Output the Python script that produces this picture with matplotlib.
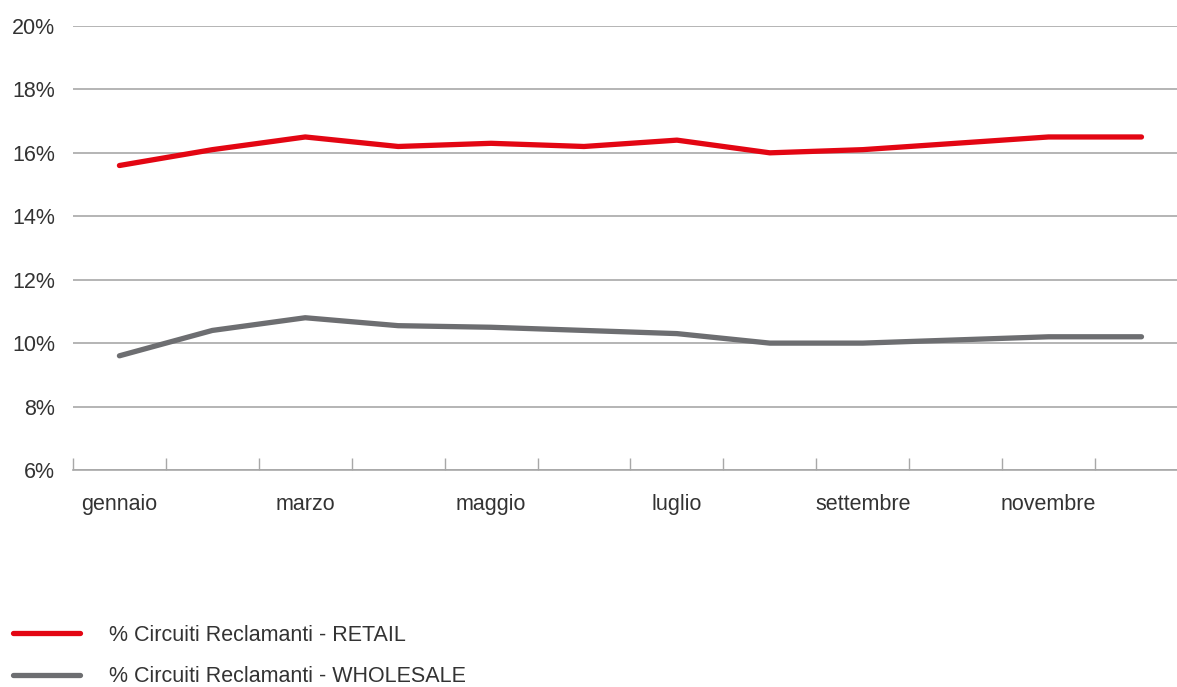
import matplotlib
matplotlib.use("Agg")
import matplotlib.pyplot as plt
from matplotlib.ticker import FixedLocator, FuncFormatter

months = ["gennaio", "febbraio", "marzo", "aprile", "maggio", "giugno",
          "luglio", "agosto", "settembre", "ottobre", "novembre", "dicembre"]
retail = [15.6, 16.1, 16.5, 16.2, 16.3, 16.2, 16.4, 16.0, 16.1, 16.3, 16.5, 16.5]
wholesale = [9.6, 10.4, 10.8, 10.55, 10.5, 10.4, 10.3, 10.0, 10.0, 10.1, 10.2, 10.2]
series_names = ["% Circuiti Reclamanti - RETAIL", "% Circuiti Reclamanti - WHOLESALE"]
y_ticks = [6, 8, 10, 12, 14, 16, 18, 20]

plt.rcParams['font.family'] = ['Liberation Sans', 'DejaVu Sans']
FS = 15.5

fig = plt.figure(figsize=(11.77, 6.87), dpi=100)
ax = fig.add_axes([0.062, 0.3159, 1.0093 - 0.062, 0.9622 - 0.3159])

x = list(range(len(months)))
l1, = ax.plot(x, retail, color="#e30613", lw=3.8, solid_capstyle="round", solid_joinstyle="round", zorder=3)
l2, = ax.plot(x, wholesale, color="#6d6e71", lw=3.8, solid_capstyle="round", solid_joinstyle="round", zorder=3)

ax.set_xlim(-0.5, len(months) - 0.5)
ax.set_ylim(6, 20)
ax.yaxis.set_major_locator(FixedLocator(y_ticks))
ax.yaxis.set_major_formatter(FuncFormatter(lambda v, p: f"{int(v)}%"))
ax.grid(axis="y", color="#a8a8a8", lw=1.2)
ax.set_axisbelow(True)

ax.set_xticks(x[::2])
ax.set_xticklabels(months[::2])
ax.set_xticks([i - 0.5 for i in x], minor=True)
ax.tick_params(axis="x", which="major", length=0, pad=17, labelsize=FS, labelcolor="#333333")
ax.tick_params(axis="x", which="minor", direction="in", length=9, width=1.0, color="#a8a8a8")
ax.tick_params(axis="y", length=0, pad=13, labelsize=FS, labelcolor="#333333")

for s in ["left", "right", "top"]:
    ax.spines[s].set_visible(False)
ax.spines["bottom"].set_color("#a8a8a8")
ax.spines["bottom"].set_linewidth(1.2)

fig.legend([l1, l2], series_names, loc="upper left", bbox_to_anchor=(0.004, 0.103),
           bbox_transform=fig.transFigure, frameon=False, fontsize=FS,
           handlelength=3.1, handletextpad=1.35, labelspacing=0.95, borderaxespad=0.0,
           labelcolor="#333333")

fig.savefig("out.png", dpi=100)
